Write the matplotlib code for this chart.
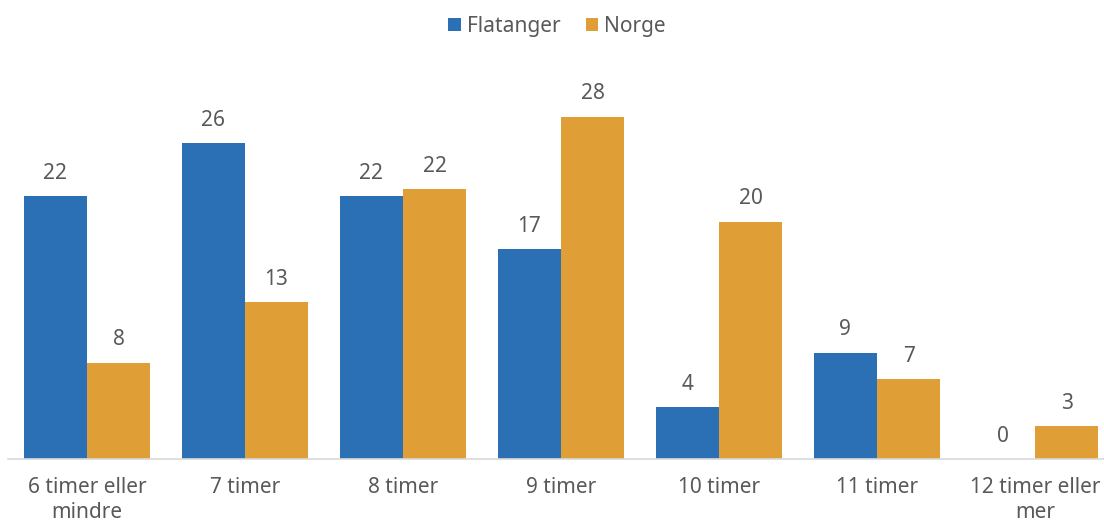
import matplotlib.pyplot as plt
import numpy as np

plt.rcParams["font.family"] = ["Noto Sans", "DejaVu Sans"]

categories = [
    "6 timer eller\nmindre",
    "7 timer",
    "8 timer",
    "9 timer",
    "10 timer",
    "11 timer",
    "12 timer eller\nmer",
]
flatanger = [21.8, 26.2, 21.8, 17.4, 4.3, 8.8, 0.0]
norge = [8.0, 13.0, 22.4, 28.4, 19.7, 6.6, 2.7]
series_names = ["Flatanger", "Norge"]

BLUE = "#2b6fb4"
ORANGE = "#e09e37"
TEXT = "#595959"

W, H = 1104, 523
fig = plt.figure(figsize=(W / 100, H / 100), dpi=100)
# plot area runs a little past the right edge of the picture, like the original
ax = fig.add_axes([8 / W, 64 / H, 1106 / W, 361.5 / H])

x = np.arange(len(categories))
width = 0.4
bars_f = ax.bar(x - width / 2, flatanger, width, color=BLUE, label=series_names[0])
bars_n = ax.bar(x + width / 2, norge, width, color=ORANGE, label=series_names[1])

for bars, vals in [(bars_f, flatanger), (bars_n, norge)]:
    for bar, v in zip(bars, vals):
        ax.annotate(
            f"{v:.0f}",
            (bar.get_x() + bar.get_width() / 2, bar.get_height()),
            xytext=(0, 9),
            textcoords="offset points",
            ha="center",
            va="bottom",
            fontsize=15,
            color=TEXT,
        )

ax.set_xlim(-0.5, len(categories) - 0.5)
ax.set_ylim(0, 30)
ax.set_xticks(x)
ax.set_xticklabels(categories, fontsize=15, color=TEXT, linespacing=1.25)
ax.tick_params(axis="x", length=0, pad=13)
ax.set_yticks([])
for side in ["top", "right", "left"]:
    ax.spines[side].set_visible(False)
ax.spines["bottom"].set_color("#d9d9d9")
ax.spines["bottom"].set_linewidth(1.2)

fig.legend(
    loc="upper center",
    bbox_to_anchor=(557 / W, 1.006),
    ncol=2,
    frameon=False,
    fontsize=15,
    labelcolor=TEXT,
    handlelength=0.6,
    handleheight=0.6,
    handletextpad=0.3,
    columnspacing=1.2,
)

fig.savefig("out.png", dpi=100)
